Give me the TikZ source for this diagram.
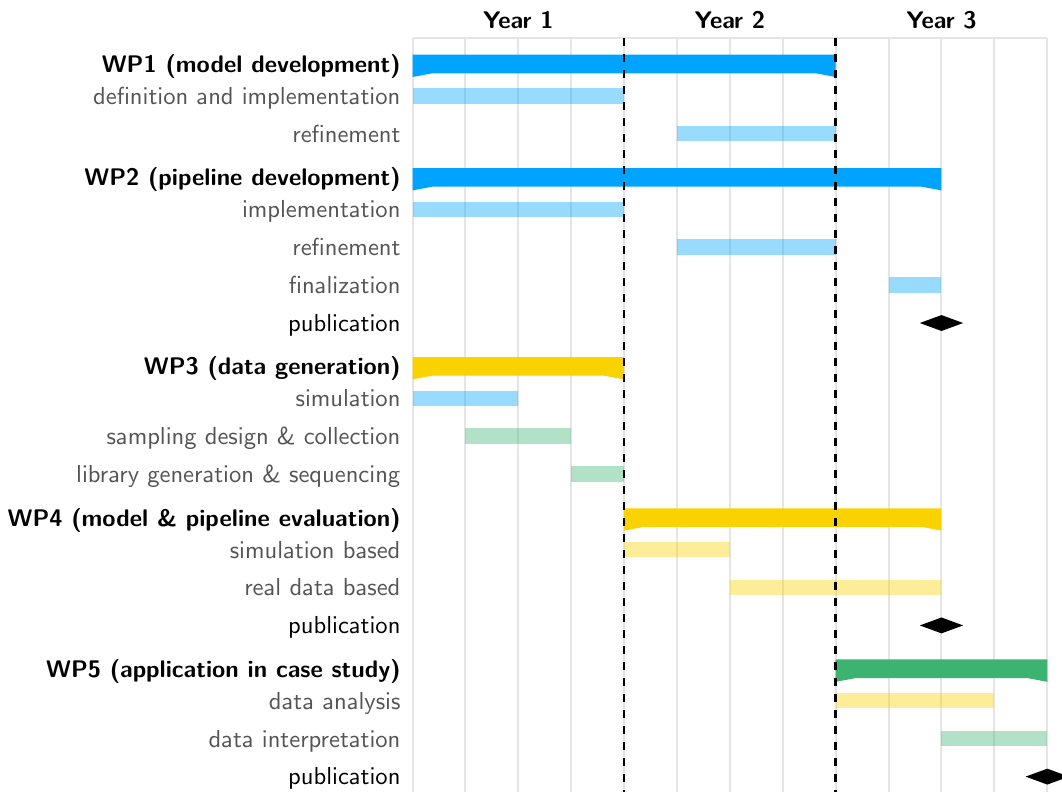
\documentclass[tikz,border=0pt]{standalone}

\definecolor{wpblue}{RGB}{0,164,255}
\definecolor{wpyellow}{RGB}{250,210,0}
\definecolor{wpgreen}{RGB}{60,179,113}

\font\tasksf=cmss10 at 12.3pt

\tikzset{
  wplabel/.style={anchor=base east, inner sep=0pt, font=\large\sffamily\bfseries},
  tasklabel/.style={anchor=base east, inner sep=0pt, font=\tasksf, text=black!67},
  publabel/.style={anchor=base east, inner sep=0pt, font=\tasksf},
  yearlabel/.style={anchor=base, inner sep=0pt, font=\large\sffamily\bfseries},
  taskfill/.style={fill=#1, fill opacity=0.4},
  gridline/.style={draw=black!10, line width=1pt},
  yearsep/.style={draw=black, line width=1.3pt, dash pattern=on 4pt off 4pt},
}

% row, first column, last column, colour
\newcommand{\wpbar}[4]{%
  \fill[#4] (#2,#1+0.434) -- (#3,#1+0.434) -- (#3,#1+1.025) -- (#3-0.378,#1+0.926)
    -- (#2+0.378,#1+0.926) -- (#2,#1+1.025) -- cycle;}
\newcommand{\wptask}[4]{%
  \fill[taskfill=#4] (#2,#1+0.323) rectangle (#3,#1+0.730);}
\newcommand{\pubmark}[2]{%
  \fill (#2,#1+0.533) +(-0.41,0) -- +(0,-0.21) -- +(0.41,0) -- +(0,0.21) -- cycle;}

\begin{document}
\begin{tikzpicture}[x=26.45pt, y=-18.9pt]
    \useasboundingbox (-7.798,-1.013) rectangle (12.278,19.939);

    % grid
    \foreach \c in {0,...,12}
        \draw[gridline] (\c,0) -- (\c,20.2);
    \draw[gridline] (0,0) -- (12,0);

    \node[yearlabel] (y1) at (2,-0.27) {Year 1};
    \node[yearlabel] (y2) at (6,-0.27) {Year 2};
    \node[yearlabel] (y3) at (10,-0.27) {Year 3};

    % labels
    \node[wplabel]   (wp1)  at (-0.217,0.905)  {WP1 (model development)};
    \node[tasklabel] (wp1a) at (-0.217,1.752)  {definition and implementation};
    \node[tasklabel] (wp1b) at (-0.217,2.752)  {refinement};
    \node[wplabel]   (wp2)  at (-0.217,3.905)  {WP2 (pipeline development)};
    \node[tasklabel] (wp2a) at (-0.217,4.752)  {implementation};
    \node[tasklabel] (wp2b) at (-0.217,5.752)  {refinement};
    \node[tasklabel] (wp2c) at (-0.217,6.752)  {finalization};
    \node[publabel]  (wp2p) at (-0.217,7.752)  {publication};
    \node[wplabel]   (wp3)  at (-0.217,8.905)  {WP3 (data generation)};
    \node[tasklabel] (wp3a) at (-0.217,9.752)  {simulation};
    \node[tasklabel] (wp3b) at (-0.217,10.752) {sampling design \& collection};
    \node[tasklabel] (wp3c) at (-0.217,11.752) {library generation \& sequencing};
    \node[wplabel]   (wp4)  at (-0.217,12.905) {WP4 (model \& pipeline evaluation)};
    \node[tasklabel] (wp4a) at (-0.217,13.752) {simulation based};
    \node[tasklabel] (wp4b) at (-0.217,14.752) {real data based};
    \node[publabel]  (wp4p) at (-0.217,15.752) {publication};
    \node[wplabel]   (wp5)  at (-0.217,16.905) {WP5 (application in case study)};
    \node[tasklabel] (wp5a) at (-0.217,17.752) {data analysis};
    \node[tasklabel] (wp5b) at (-0.217,18.752) {data interpretation};
    \node[publabel]  (wp5p) at (-0.217,19.752) {publication};

    % bars
    \wptask{1}{0}{4}{wpblue}
    \wptask{2}{5}{8}{wpblue}
    \wptask{4}{0}{4}{wpblue}
    \wptask{5}{5}{8}{wpblue}
    \wptask{6}{9}{10}{wpblue}
    \wptask{9}{0}{2}{wpblue}
    \wptask{10}{1}{3}{wpgreen}
    \wptask{11}{3}{4}{wpgreen}
    \wptask{13}{4}{6}{wpyellow}
    \wptask{14}{6}{10}{wpyellow}
    \wptask{17}{8}{11}{wpyellow}
    \wptask{18}{10}{12}{wpgreen}

    \wpbar{0}{0}{8}{wpblue}
    \wpbar{3}{0}{10}{wpblue}
    \wpbar{8}{0}{4}{wpyellow}
    \wpbar{12}{4}{10}{wpyellow}
    \wpbar{16}{8}{12}{wpgreen}

    \pubmark{7}{10}
    \pubmark{15}{10}
    \pubmark{19}{12}

    % year boundaries
    \draw[yearsep] (4,0) -- (4,20.2);
    \draw[yearsep] (8,0) -- (8,20.2);
\end{tikzpicture}
\end{document}
